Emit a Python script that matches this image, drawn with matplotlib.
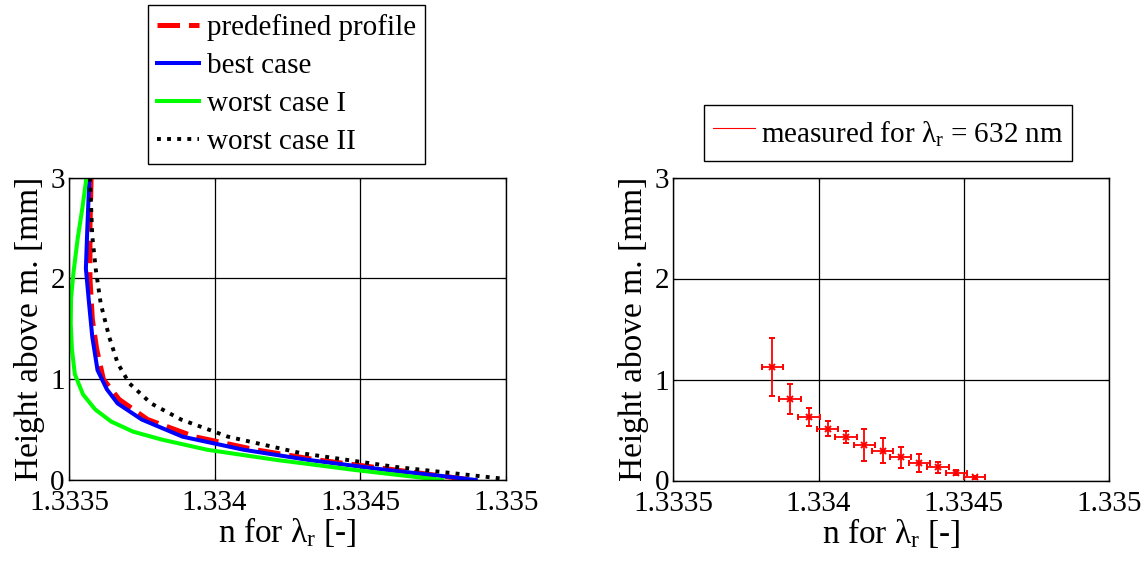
import matplotlib.pyplot as plt
from matplotlib.lines import Line2D

plt.rcParams['font.family'] = ['Liberation Serif', 'DejaVu Serif']
plt.rcParams['mathtext.fontset'] = 'custom'
plt.rcParams['mathtext.rm'] = 'Liberation Serif'
plt.rcParams['mathtext.it'] = 'Liberation Serif:italic'

# refractive index profiles n(h), h in mm above the medium
h_predef = [3.0, 2.5, 2.0, 1.6, 1.3, 1.0, 0.8, 0.6, 0.43, 0.3, 0.2, 0.1, 0.0]
n_predef = [1.333576, 1.333572, 1.333572, 1.333580, 1.333595, 1.333618, 1.333672,
            1.333770, 1.333931, 1.334140, 1.334350, 1.334620, 1.334885]

h_best = [3.0, 2.5, 2.1, 1.75, 1.42, 1.09, 0.9, 0.76, 0.6, 0.43, 0.3, 0.2, 0.1, 0.04, 0.0]
n_best = [1.333570, 1.333563, 1.333558, 1.333569, 1.333580, 1.333598, 1.333630, 1.333667,
          1.333750, 1.333890, 1.334100, 1.334320, 1.334590, 1.334780, 1.334897]

h_worst1 = [3.0, 2.7, 2.4, 2.05, 1.8, 1.55, 1.3, 1.05, 0.85, 0.7, 0.58, 0.48, 0.4,
            0.3, 0.2, 0.1, 0.04, 0.0]
n_worst1 = [1.333560, 1.333546, 1.333530, 1.333515, 1.333507, 1.333506, 1.333510,
            1.333520, 1.333548, 1.333590, 1.333645, 1.333720, 1.333820, 1.333975,
            1.334210, 1.334480, 1.334660, 1.334782]

h_worst2 = [3.0, 2.42, 2.09, 1.75, 1.42, 1.16, 0.96, 0.76, 0.6, 0.43, 0.265, 0.13, 0.01]
n_worst2 = [1.333572, 1.333580, 1.333592, 1.333609, 1.333638, 1.333667, 1.333707,
            1.333782, 1.333885, 1.334046, 1.334299, 1.334621, 1.335000]

# measurement at 632 nm with uncertainties
n_meas = [1.333841, 1.333902, 1.333966, 1.334031, 1.334094, 1.334157, 1.334220,
          1.334282, 1.334347, 1.334410, 1.334474, 1.334537]
h_meas = [1.128, 0.808, 0.630, 0.514, 0.432, 0.356, 0.297, 0.231, 0.178, 0.129, 0.079, 0.034]
h_meas_err = [0.287, 0.148, 0.092, 0.073, 0.059, 0.158, 0.124, 0.105, 0.089, 0.054, 0.026, 0.015]
n_meas_err = [3.7e-5] * len(n_meas)

x_ticks = [1.3335, 1.334, 1.3345, 1.335]
x_tick_labels = ['1.3335', '1.334', '1.3345', '1.335']
y_ticks = [0, 1, 2, 3]

W, H = 1147, 564
fig = plt.figure(figsize=(W / 100, H / 100), dpi=100)
ax1 = fig.add_axes([69 / W, 1 - 480 / H, 436.7 / W, 302.3 / H])
ax2 = fig.add_axes([673.3 / W, 1 - 480.5 / H, 436 / W, 303 / H])

l1, = ax1.plot(n_predef, h_predef, color='r', lw=3.6, linestyle=(0, (4.5, 1.8)))
l2, = ax1.plot(n_best, h_best, color='b', lw=2.9)
l3, = ax1.plot(n_worst1, h_worst1, color='#00ff00', lw=2.9)
l4, = ax1.plot(n_worst2, h_worst2, color='k', lw=2.8, linestyle=(0, (1, 1.6)))

ax2.errorbar(n_meas, h_meas, xerr=n_meas_err, yerr=h_meas_err, fmt='x', color='r',
             ms=4.5, mew=1.4, elinewidth=1.3, capsize=2.5, capthick=1.3)

for ax in (ax1, ax2):
    ax.set_xlim(1.3335, 1.335)
    ax.set_ylim(0, 3)
    ax.set_xticks(x_ticks)
    ax.set_xticklabels(x_tick_labels)
    ax.set_yticks(y_ticks)
    ax.grid(True, color='k', lw=0.9)
    ax.set_axisbelow(True)
    ax.tick_params(direction='in', top=True, right=True, length=3, width=0.8,
                   labelsize=21)
    ax.tick_params(axis='x', pad=7.5)
    ax.tick_params(axis='y', pad=3)
    for s in ax.spines.values():
        s.set_linewidth(1.0)
    ax.set_xlabel('n for λ$_\\mathregular{r}$ [-]', fontsize=24, labelpad=-1)
    ax.set_ylabel('Height above m. [mm]', fontsize=24, labelpad=4)

leg1 = fig.legend([l1, l2, l3, l4],
                  ['predefined profile', 'best case', 'worst case I', 'worst case II'],
                  loc='upper left', bbox_to_anchor=(148.3 / W, 1 - 5 / H),
                  borderaxespad=0, fontsize=21, handlelength=1.45, handletextpad=0.25,
                  labelspacing=0.4, borderpad=0.3, fancybox=False, framealpha=1)
leg1.get_frame().set_edgecolor('k')
leg1.get_frame().set_linewidth(1.0)

meas_handle = Line2D([], [], color='r', lw=0.8)
leg2 = fig.legend([meas_handle], ['measured for λ$_\\mathregular{r}$ = 632 nm'],
                  loc='upper left', bbox_to_anchor=(704 / W, 1 - 105 / H),
                  borderaxespad=0, fontsize=21, handlelength=1.45, handletextpad=0.2,
                  handleheight=1.65, borderpad=0.3, fancybox=False, framealpha=1)
leg2.get_frame().set_edgecolor('k')
leg2.get_frame().set_linewidth(1.0)

fig.savefig('out.png', dpi=100)
